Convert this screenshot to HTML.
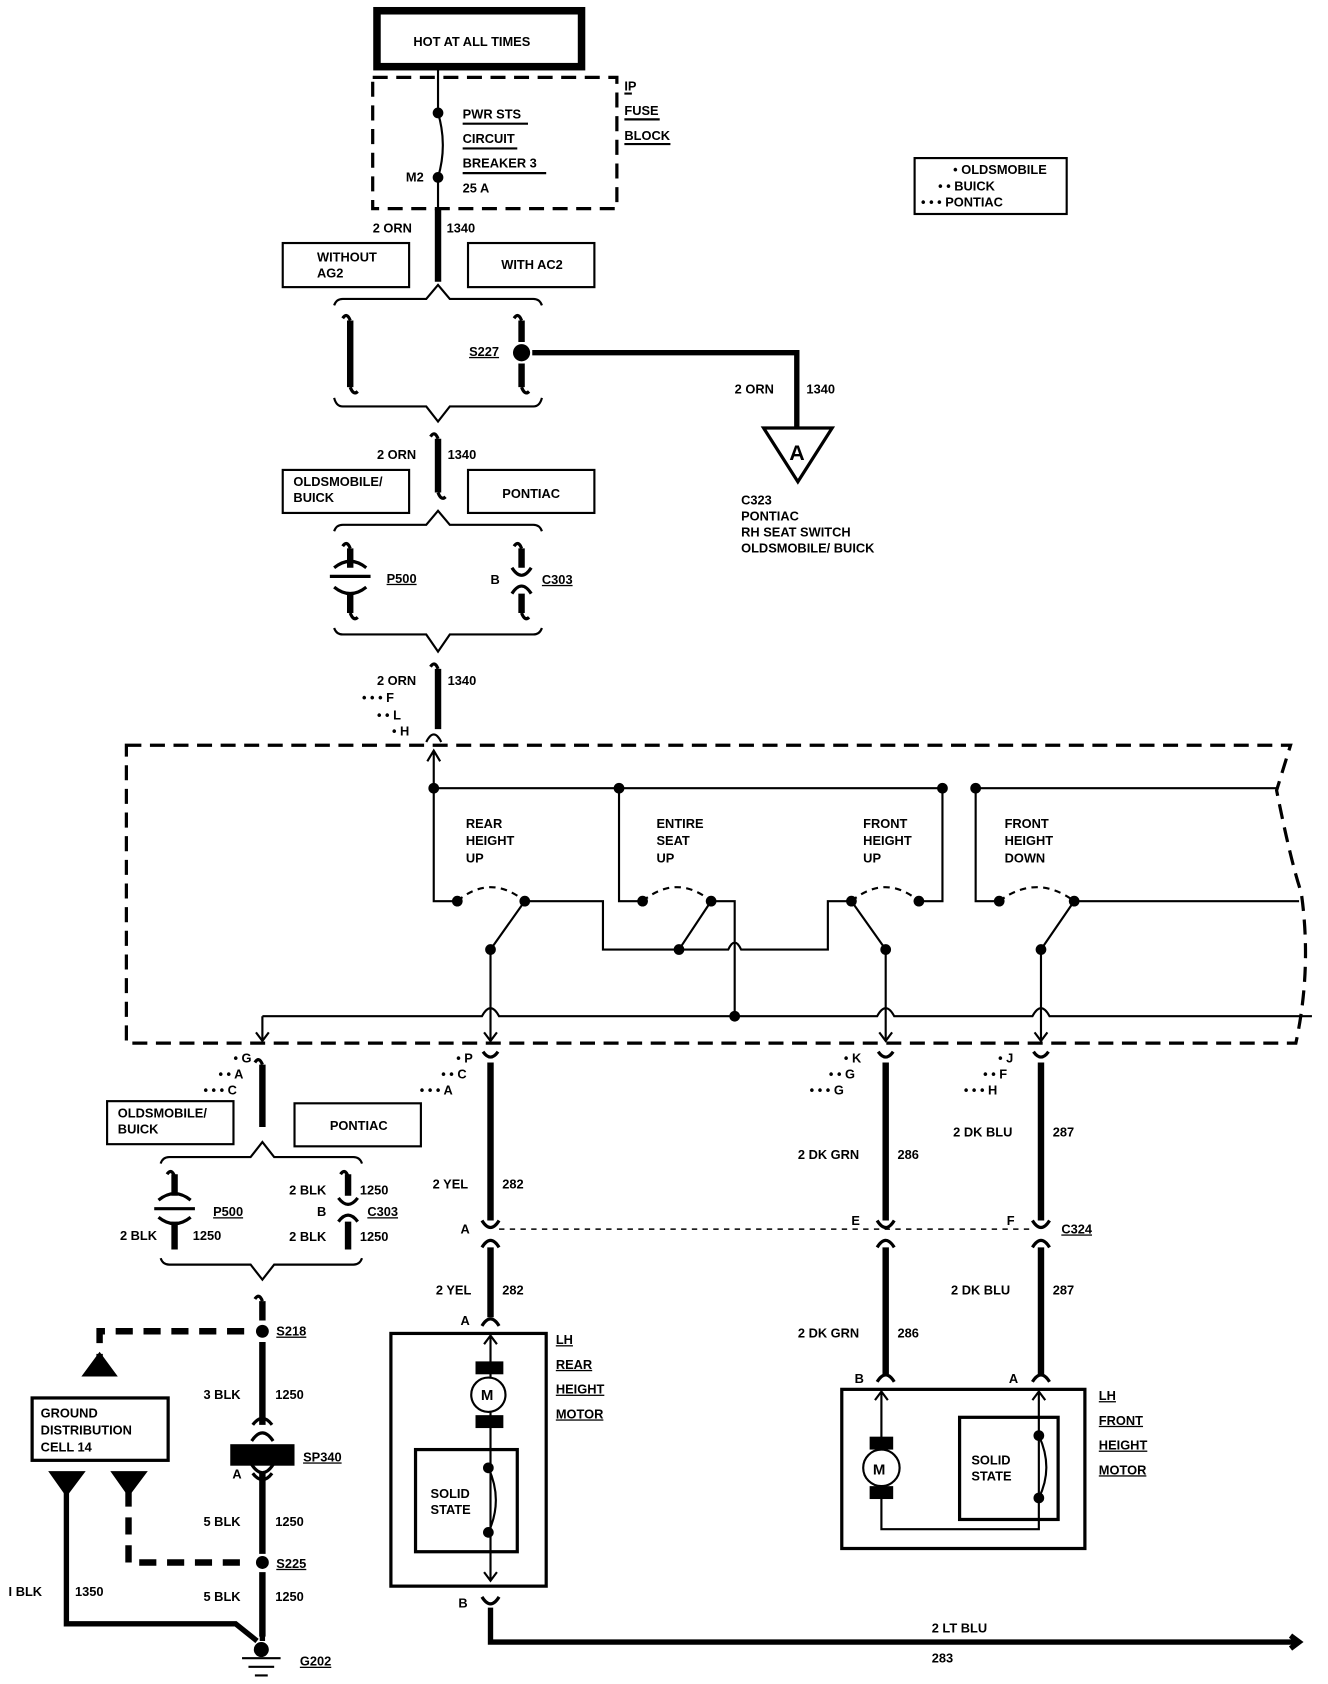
<!DOCTYPE html>
<html><head><meta charset="utf-8"><style>
html,body{margin:0;padding:0;background:#fff;width:1328px;height:1684px;overflow:hidden}
svg{display:block}
text{font-family:"Liberation Sans",sans-serif;font-weight:bold;font-size:12px;fill:#000}
.u{text-decoration:underline}
</style></head><body>
<svg width="1328" height="1684" viewBox="0 0 1240 1566" preserveAspectRatio="none" xmlns="http://www.w3.org/2000/svg">
<g fill="none" stroke="#000" stroke-width="2">
<rect x="352" y="10" width="191" height="52" stroke-width="7"/>
<rect x="348" y="72" width="228" height="122" stroke-width="3" stroke-dasharray="14,8"/>
<path d="M409 64V105 M409 105 Q418 135 409 165 M409 165V194"/>
<path d="M432 115H493 M432 138H483 M432 161H510 M583 87H590 M583 111H616 M583 134H626"/>
<rect x="854" y="147" width="142" height="52"/>
<path d="M409 194V262" stroke-width="6"/>
<rect x="264" y="226" width="118" height="41"/>
<rect x="437" y="226" width="118" height="41"/>
<path d="M312 284Q314 278 320 278H398L409 265L420 278H498Q504 278 506 284"/>
<path d="M312 370Q314 378 320 378H398L409 392L420 378H498Q504 378 506 370"/>
<path d="M312 494Q314 488 320 488H398L409 475L420 488H498Q504 488 506 494"/>
<path d="M312 584Q314 590 320 590H398L409 606L420 590H498Q504 590 506 584"/>
<g stroke-width="6">
<path d="M327 298V360 M487 298V318 M487 338V360 M409 408V458 M327 510V528 M327 552V570 M487 510V528 M487 552V570 M409 622V678"/>
</g>
<g stroke-width="3">
<path d="M320 296Q324 290 327 298 M327 360Q330 368 334 364 M480 296Q484 290 487 298 M487 360Q490 368 494 364 M402 406Q406 400 409 408 M409 458Q412 466 416 462 M320 508Q324 502 327 510 M327 570Q330 578 334 574 M480 508Q484 502 487 510 M487 570Q490 578 494 574 M402 620Q406 614 409 622"/>
<path d="M478 528Q487 542 496 528 M478 552Q487 538 496 552"/>
<path d="M308 536H346 M312 528Q327 516 342 528 M312 546Q327 558 342 546" stroke-width="3"/>
</g>
<path d="M497 328H744V398" stroke-width="5"/>
<path d="M713 398H777L745 448Z" stroke-width="3"/>
<rect x="264" y="437" width="118" height="40"/>
<rect x="437" y="437" width="118" height="40"/>
<path d="M118 693H1205L1192 735Q1205 800 1215 830Q1225 900 1210 970H118Z" stroke-width="3" stroke-dasharray="14,8"/>
<path d="M398 690Q405 676 412 690"/>
<path d="M405 733V700 M399 708L405 698L411 708"/>
<path d="M405 733H880 M911 733H1192 M405 733V838H427 M578 733V838H600 M880 733V838H858 M911 733V838H933"/>
<path d="M427 838Q458 812 490 838 M600 838Q632 812 664 838 M795 838Q827 812 858 838 M933 838Q968 812 1003 838" stroke-dasharray="6,5"/>
<path d="M458 883L490 838 M634 883L664 838 M827 883L795 838 M972 883L1003 838"/>
<path d="M490 838H563V883H680Q686 870 692 883H773V838H795 M664 838H686V945 M1003 838H1213"/>
<path d="M245 945H450Q458 930 466 945H819Q827 930 835 945H964Q972 930 980 945H1225"/>
<path d="M458 883V968 M827 883V968 M972 883V968 M245 945V968"/>
<path d="M452 960L458 968L464 960 M821 960L827 968L833 960 M966 960L972 968L978 960 M239 960L245 968L251 960"/>
<g stroke-width="3">
<path d="M451 978Q458 988 465 978 M820 978Q827 988 834 978 M965 978Q972 988 979 978 M238 988Q242 982 245 990"/>
</g>
<path d="M458 988V1135 M827 988V1135 M972 988V1135 M458 1160V1225 M827 1160V1278 M972 1160V1278 M245 990V1048" stroke-width="6"/>
<g stroke-width="3">
<path d="M450 1135Q458 1148 466 1135 M450 1160Q458 1147 466 1160 M819 1135Q827 1148 835 1135 M819 1160Q827 1147 835 1160 M964 1135Q972 1148 980 1135 M964 1160Q972 1147 980 1160 M450 1233Q458 1220 466 1233 M819 1285Q827 1272 835 1285 M964 1285Q972 1272 980 1285 M450 1485Q458 1498 466 1485"/>
</g>
<path d="M466 1143H964" stroke-dasharray="5,5" stroke-width="1.5"/>
<rect x="365" y="1240" width="145" height="235" stroke-width="3"/>
<path d="M458 1242V1470 M452 1250L458 1242L464 1250 M452 1462L458 1470L464 1462"/>
<circle cx="456" cy="1297" r="16" fill="#fff"/>
<rect x="388" y="1348" width="95" height="95" stroke-width="3"/>
<path d="M456 1365Q470 1395 456 1425"/>
<path d="M458 1495V1527H1212 M1205 1521L1213 1527L1205 1533" stroke-width="5"/>
<rect x="786" y="1292" width="227" height="148" stroke-width="3"/>
<path d="M823 1294V1422H970V1294 M817 1302L823 1294L829 1302 M964 1302L970 1294L976 1302"/>
<circle cx="823" cy="1365" r="17" fill="#fff"/>
<rect x="896" y="1318" width="92" height="95" stroke-width="3"/>
<path d="M970 1335Q984 1365 970 1393"/>
<rect x="100" y="1024" width="118" height="40"/>
<rect x="275" y="1026" width="118" height="40"/>
<path d="M150 1082Q152 1076 158 1076H234L245 1062L256 1076H330Q336 1076 338 1082"/>
<path d="M150 1170Q152 1176 158 1176H234L245 1190L256 1176H330Q336 1176 338 1170"/>
<path d="M163 1092V1112 M163 1136V1162 M325 1092V1112 M325 1136V1162 M245 1210V1228 M245 1248V1325 M245 1370V1445 M245 1462V1522" stroke-width="6"/>
<g stroke-width="3">
<path d="M156 1092Q160 1086 163 1094 M318 1092Q322 1086 325 1094 M238 1208Q242 1202 245 1210 M316 1114Q325 1126 334 1114 M316 1136Q325 1124 334 1136 M144 1124H182 M148 1116Q163 1104 178 1116 M148 1132Q163 1144 178 1132 M236 1325Q245 1313 254 1325 M236 1370Q245 1382 254 1370 M235 1340Q245 1325 255 1340 M235 1362Q245 1377 255 1362"/>
</g>
<path d="M93 1275V1238H232 M120 1385V1453H232" stroke-width="6" stroke-dasharray="16,10"/>
<rect x="30" y="1300" width="127" height="58" stroke-width="3"/>
<path d="M62 1380V1510H220L240 1526 M245 1520V1526" stroke-width="5"/>
<path d="M226 1542H262 M232 1550H256 M238 1558H250" stroke-width="2"/>
</g>
<g fill="#000">
<circle cx="409" cy="105" r="5"/><circle cx="409" cy="165" r="5"/>
<circle cx="487" cy="328" r="8"/>
<circle cx="405" cy="733" r="5"/><circle cx="578" cy="733" r="5"/><circle cx="880" cy="733" r="5"/><circle cx="911" cy="733" r="5"/>
<circle cx="427" cy="838" r="5"/><circle cx="490" cy="838" r="5"/><circle cx="458" cy="883" r="5"/>
<circle cx="600" cy="838" r="5"/><circle cx="664" cy="838" r="5"/><circle cx="634" cy="883" r="5"/>
<circle cx="795" cy="838" r="5"/><circle cx="858" cy="838" r="5"/><circle cx="827" cy="883" r="5"/>
<circle cx="933" cy="838" r="5"/><circle cx="1003" cy="838" r="5"/><circle cx="972" cy="883" r="5"/>
<circle cx="686" cy="945" r="5"/>
<rect x="444" y="1266" width="26" height="12"/><rect x="444" y="1316" width="26" height="12"/>
<circle cx="456" cy="1365" r="5"/><circle cx="456" cy="1425" r="5"/>
<rect x="812" y="1336" width="22" height="12"/><rect x="812" y="1382" width="22" height="12"/>
<circle cx="970" cy="1335" r="5"/><circle cx="970" cy="1393" r="5"/>
<circle cx="245" cy="1238" r="6"/><circle cx="245" cy="1453" r="6"/>
<rect x="215" y="1343" width="60" height="20"/>
<path d="M76 1280H110L93 1257Z M45 1368H80L62 1392Z M103 1368H138L120 1392Z"/>
<circle cx="244" cy="1534" r="7"/>
</g>
<text x="386" y="43">HOT AT ALL TIMES</text>
<text x="432" y="110">PWR STS</text><text x="432" y="133">CIRCUIT</text><text x="432" y="156">BREAKER 3</text><text x="432" y="179">25 A</text>
<text x="379" y="169">M2</text>
<text x="583" y="84">IP</text><text x="583" y="107">FUSE</text><text x="583" y="130">BLOCK</text>
<text x="890" y="162">• OLDSMOBILE</text><text x="876" y="177">• • BUICK</text><text x="860" y="192">• • • PONTIAC</text>
<text x="348" y="216">2 ORN</text><text x="417" y="216">1340</text>
<text x="296" y="243">WITHOUT</text><text x="296" y="258">AG2</text>
<text x="468" y="250">WITH AC2</text>
<text x="438" y="331" class="u">S227</text>
<text x="686" y="366">2 ORN</text><text x="753" y="366">1340</text>
<text x="737" y="428" style="font-size:20px">A</text>
<text x="692" y="469">C323</text><text x="692" y="484">PONTIAC</text><text x="692" y="499">RH SEAT SWITCH</text><text x="692" y="514">OLDSMOBILE/ BUICK</text>
<text x="352" y="427">2 ORN</text><text x="418" y="427">1340</text>
<text x="274" y="452">OLDSMOBILE/</text><text x="274" y="467">BUICK</text>
<text x="469" y="463">PONTIAC</text>
<text x="361" y="542" class="u">P500</text>
<text x="458" y="543">B</text><text x="506" y="543" class="u">C303</text>
<text x="352" y="637">2 ORN</text><text x="418" y="637">1340</text>
<text x="338" y="653">• • • F</text><text x="352" y="669">• • L</text><text x="366" y="684">• H</text>
<text x="435" y="770">REAR</text><text x="435" y="786">HEIGHT</text><text x="435" y="802">UP</text>
<text x="613" y="770">ENTIRE</text><text x="613" y="786">SEAT</text><text x="613" y="802">UP</text>
<text x="806" y="770">FRONT</text><text x="806" y="786">HEIGHT</text><text x="806" y="802">UP</text>
<text x="938" y="770">FRONT</text><text x="938" y="786">HEIGHT</text><text x="938" y="802">DOWN</text>
<text x="218" y="988">• G</text><text x="204" y="1003">• • A</text><text x="190" y="1018">• • • C</text>
<text x="426" y="988">• P</text><text x="412" y="1003">• • C</text><text x="392" y="1018">• • • A</text>
<text x="788" y="988">• K</text><text x="774" y="1003">• • G</text><text x="756" y="1018">• • • G</text>
<text x="932" y="988">• J</text><text x="918" y="1003">• • F</text><text x="900" y="1018">• • • H</text>
<text x="110" y="1039">OLDSMOBILE/</text><text x="110" y="1054">BUICK</text>
<text x="308" y="1051">PONTIAC</text>
<text x="270" y="1111">2 BLK</text><text x="336" y="1111">1250</text>
<text x="296" y="1131">B</text><text x="343" y="1131" class="u">C303</text>
<text x="270" y="1154">2 BLK</text><text x="336" y="1154">1250</text>
<text x="199" y="1131" class="u">P500</text>
<text x="112" y="1153">2 BLK</text><text x="180" y="1153">1250</text>
<text x="404" y="1105">2 YEL</text><text x="469" y="1105">282</text>
<text x="430" y="1147">A</text>
<text x="407" y="1204">2 YEL</text><text x="469" y="1204">282</text>
<text x="430" y="1232">A</text>
<text x="519" y="1250" class="u">LH</text><text x="519" y="1273" class="u">REAR</text><text x="519" y="1296" class="u">HEIGHT</text><text x="519" y="1319" class="u">MOTOR</text>
<text x="449" y="1302" style="font-size:14px">M</text>
<text x="402" y="1393">SOLID</text><text x="402" y="1408">STATE</text>
<text x="428" y="1495">B</text>
<text x="745" y="1078">2 DK GRN</text><text x="838" y="1078">286</text>
<text x="795" y="1139">E</text>
<text x="745" y="1244">2 DK GRN</text><text x="838" y="1244">286</text>
<text x="798" y="1286">B</text>
<text x="890" y="1057">2 DK BLU</text><text x="983" y="1057">287</text>
<text x="940" y="1139">F</text><text x="991" y="1147" class="u">C324</text>
<text x="888" y="1204">2 DK BLU</text><text x="983" y="1204">287</text>
<text x="942" y="1286">A</text>
<text x="1026" y="1302" class="u">LH</text><text x="1026" y="1325" class="u">FRONT</text><text x="1026" y="1348" class="u">HEIGHT</text><text x="1026" y="1371" class="u">MOTOR</text>
<text x="815" y="1371" style="font-size:14px">M</text>
<text x="907" y="1362">SOLID</text><text x="907" y="1377">STATE</text>
<text x="870" y="1518">2 LT BLU</text><text x="870" y="1546">283</text>
<text x="38" y="1318">GROUND</text><text x="38" y="1334">DISTRIBUTION</text><text x="38" y="1350">CELL 14</text>
<text x="258" y="1242" class="u">S218</text>
<text x="190" y="1301">3 BLK</text><text x="257" y="1301">1250</text>
<text x="283" y="1359" class="u">SP340</text><text x="217" y="1375">A</text>
<text x="190" y="1419">5 BLK</text><text x="257" y="1419">1250</text>
<text x="258" y="1458" class="u">S225</text>
<text x="8" y="1484">I BLK</text><text x="70" y="1484">1350</text>
<text x="190" y="1489">5 BLK</text><text x="257" y="1489">1250</text>
<text x="280" y="1549" class="u">G202</text>
</svg>
</body></html>
